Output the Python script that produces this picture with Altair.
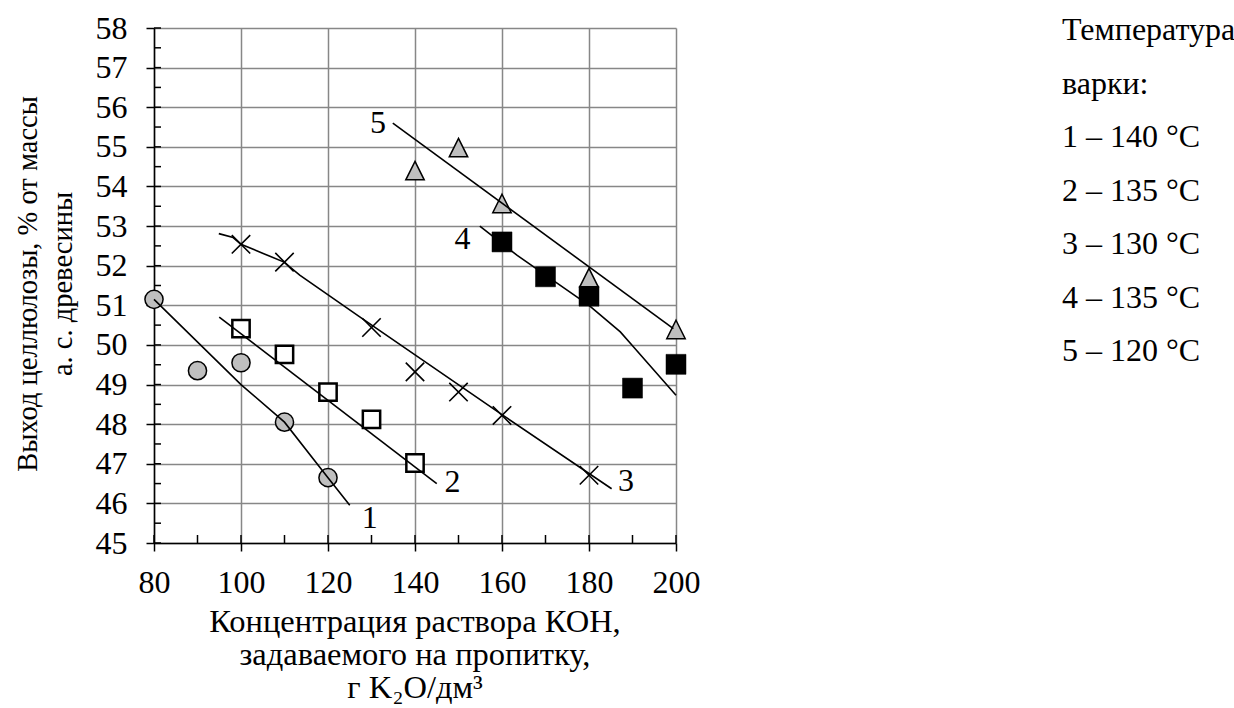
import altair as alt
import pandas as pd

FONT = "Liberation Serif"

s1_x = [80, 90, 100, 110, 120]
s1_y = [51.15, 49.35, 49.55, 48.05, 46.65]
s2_x = [100, 110, 120, 130, 140]
s2_y = [50.41, 49.76, 48.81, 48.12, 47.02]
s3_x = [100, 110, 130, 140, 150, 160, 180]
s3_y = [52.54, 52.09, 50.44, 49.32, 48.81, 48.22, 46.71]
s4_x = [160, 170, 180, 190, 200]
s4_y = [52.60, 51.72, 51.23, 48.91, 49.51]
s5_x = [140, 150, 160, 180, 200]
s5_y = [54.40, 54.98, 53.57, 51.70, 50.39]

# ---- trend curves ----
t1_x = [80, 100, 110, 120, 125]
t1_y = [51.15, 49.0, 48.05, 46.65, 45.95]
t2_x = [95, 145]
t2_y = [50.7, 46.5]
t3_x = [94.9, 98.2, 100, 105.1, 109.9, 113.5, 127.3, 160, 185.2]
t3_y = [52.81, 52.71, 52.54, 52.31, 52.09, 51.76, 50.71, 48.24, 46.37]
t4_x = [154.9, 163.5, 180, 187.2, 189.9, 200]
t4_y = [53.0, 52.26, 51.0, 50.33, 49.99, 48.73]
t5_x = [134.9, 199.4]
t5_y = [55.6, 50.41]

# ---- curve labels ----
lab_text = ["1", "2", "3", "4", "5"]
lab_x = [129.6, 148.6, 188.5, 150.9, 131.5]
lab_y = [45.62, 46.54, 46.56, 52.68, 55.59]

# ---- ticks ----
x_major = [80, 100, 120, 140, 160, 180, 200]
y_major = list(range(45, 59))
x_minor = list(range(80, 201, 10))
y_minor = [45 + 0.5 * i for i in range(27)]

# ---- texts ----
y_title_1 = "Выход целлюлозы, % от массы"
y_title_2 = "а. с. древесины"
x_title = ["Концентрация раствора КОН,", "задаваемого на пропитку,", "г K₂O/дм³"]
legend_lines = ["Температура", "варки:", "1 – 140 °C", "2 – 135 °C",
                "3 – 130 °C", "4 – 135 °C", "5 – 120 °C"]

W, H = 522, 515

xscale = alt.Scale(domain=[80, 200], nice=False, zero=False)
yscale = alt.Scale(domain=[45, 58], nice=False, zero=False)

common_axis = dict(
    title=None, grid=True, gridColor="#878787", gridWidth=1.5,
    tickSize=8, tickColor="black", tickWidth=1.5,
    domainColor="black", domainWidth=1.5,
    labelFont=FONT, labelFontSize=32, labelColor="black",
    labelFlush=False, labelOverlap=False,
)
xaxis = alt.Axis(values=x_major, labelPadding=16, **common_axis)
yaxis = alt.Axis(values=y_major, labelPadding=19, **common_axis)

X = lambda: alt.X("x:Q", scale=xscale, axis=xaxis)
Y = lambda: alt.Y("y:Q", scale=yscale, axis=yaxis)

# inward minor/major ticks
ytick_df = pd.DataFrame({"y": y_minor})
xtick_df = pd.DataFrame({"x": x_minor})
ytick = alt.Chart(ytick_df).mark_rule(color="black", strokeWidth=1.5).encode(
    y=Y(), x=alt.value(0), x2=alt.value(7))
xtick = alt.Chart(xtick_df).mark_rule(color="black", strokeWidth=1.5).encode(
    x=X(), y=alt.value(H), y2=alt.value(H - 8))


def pts(xs, ys):
    return pd.DataFrame({"x": xs, "y": ys})


p1 = alt.Chart(pts(s1_x, s1_y)).mark_point(
    shape="circle", size=330, filled=True, fill="#bfbfbf", stroke="black",
    strokeWidth=1.5, opacity=1).encode(x=X(), y=Y())
p2 = alt.Chart(pts(s2_x, s2_y)).mark_point(
    shape="square", size=300, filled=True, fill="white", stroke="black",
    strokeWidth=2.5, opacity=1).encode(x=X(), y=Y())
p3 = alt.Chart(pts(s3_x, s3_y)).mark_point(
    shape="M-1,-1L1,1M-1,1L1,-1", size=340, filled=False, stroke="black",
    strokeWidth=1.6, opacity=1).encode(x=X(), y=Y())
p4 = alt.Chart(pts(s4_x, s4_y)).mark_point(
    shape="square", size=400, filled=True, fill="black", stroke="black",
    strokeWidth=0.5, opacity=1).encode(x=X(), y=Y())
p5 = alt.Chart(pts(s5_x, s5_y)).mark_point(
    shape="M0,-1L1,1L-1,1Z", size=340, filled=True, fill="#bfbfbf",
    stroke="black", strokeWidth=1.5, opacity=1).encode(x=X(), y=Y())

rows = []
for name, xs, ys in [("1", t1_x, t1_y), ("2", t2_x, t2_y), ("3", t3_x, t3_y),
                     ("4", t4_x, t4_y), ("5", t5_x, t5_y)]:
    for i, (a, b) in enumerate(zip(xs, ys)):
        rows.append({"series": name, "o": i, "x": a, "y": b})
trend_df = pd.DataFrame(rows)
trend = alt.Chart(trend_df).mark_line(color="black", strokeWidth=1.6).encode(
    x=X(), y=Y(), detail="series:N", order="o:Q")

lab_df = pd.DataFrame({"x": lab_x, "y": lab_y, "t": lab_text})
labels = alt.Chart(lab_df).mark_text(
    font=FONT, fontSize=32, color="black", align="center", baseline="middle"
).encode(x=X(), y=Y(), text="t:N")

one = pd.DataFrame({"k": [0]})
ytitle1 = alt.Chart(one).mark_text(
    text=y_title_1, font=FONT, fontSize=28.5, color="black", angle=270,
    align="center", baseline="alphabetic"
).encode(x=alt.value(-117.5), y=alt.value(256))
ytitle2 = alt.Chart(one).mark_text(
    text=y_title_2, font=FONT, fontSize=28.5, color="black", angle=270,
    align="center", baseline="alphabetic"
).encode(x=alt.value(-82), y=alt.value(256))
xtitle = alt.Chart(one).mark_text(
    text=x_title, font=FONT, fontSize=32.5, color="black", align="center",
    baseline="alphabetic", lineHeight=33
).encode(x=alt.value(W / 2), y=alt.value(604))
legend = alt.Chart(one).mark_text(
    text=legend_lines, font=FONT, fontSize=32, color="black", align="left",
    baseline="alphabetic", lineHeight=53.5
).encode(x=alt.value(908), y=alt.value(12))

chart = alt.layer(
    ytick, xtick, p1, p2, p3, p4, p5, trend, labels,
    ytitle1, ytitle2, xtitle, legend
).properties(
    width=W, height=H,
    padding={"left": 154, "top": 28, "right": 1234 - 154 - W, "bottom": 708 - 28 - H},
    autosize=alt.AutoSizeParams(type="none"),
).configure_view(stroke=None).configure_axis(
    labelFont=FONT, labelFontSize=32, labelColor="black"
).configure_text(font=FONT)

chart.save("out.html", embed_options={"renderer": "svg", "actions": False})
